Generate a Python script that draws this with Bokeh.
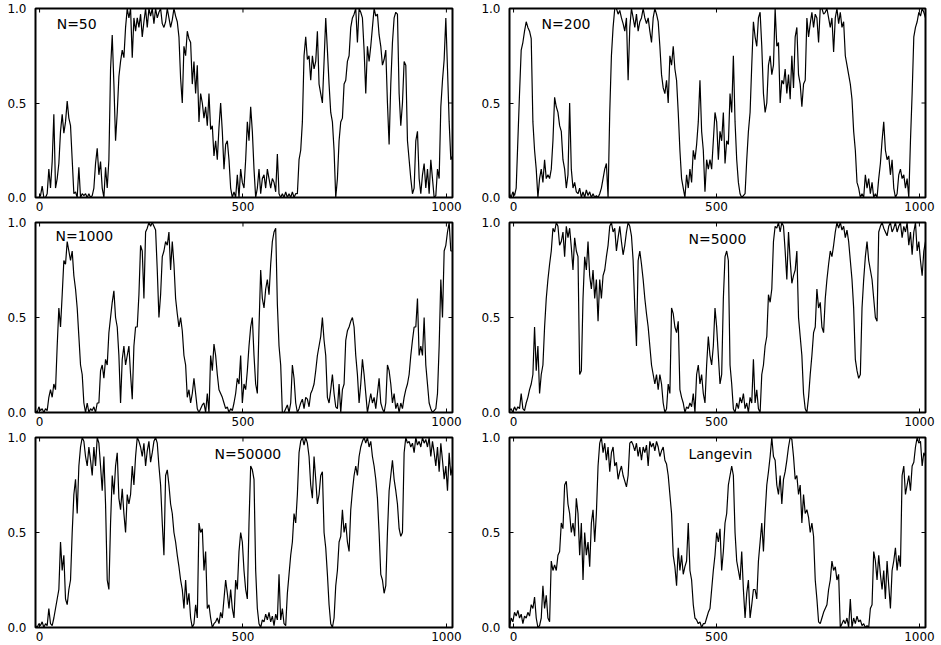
import numpy as np
from bokeh.plotting import figure
from bokeh.models import Range1d, FixedTicker, Label, PrintfTickFormatter
from bokeh.layouts import column, row
from bokeh.embed import file_html
from bokeh.resources import INLINE

# Sampled trajectories (fraction in 0..1), evenly spaced over the whole time window
n50 = [
    0, 0, 0, 0.01, 0.06, 0, 0, 0.02, 0.15, 0.05, 0.19, 0.44, 0.05, 0.1, 0.18, 0.35, 0.44, 0.34, 0.4, 0.51,
    0.42, 0.38, 0.2, 0.02, 0.03, 0, 0.16, 0, 0.02, 0.01, 0.02, 0, 0.02, 0, 0.01, 0.05, 0.18, 0.26, 0.12, 0.19,
    0.05, 0, 0.16, 0.05, 0.2, 0.68, 0.86, 0.6, 0.3, 0.45, 0.64, 0.72, 0.78, 0.74, 0.9, 1, 0.95, 1, 0.74, 0.95,
    0.88, 0.95, 0.9, 0.97, 0.85, 0.93, 1, 0.9, 1, 0.96, 1, 0.92, 1, 0.95, 0.98, 1, 0.92, 0.9, 0.93, 1,
    0.95, 0.9, 0.94, 1, 0.96, 0.93, 0.85, 0.63, 0.5, 0.8, 0.75, 0.88, 0.84, 0.82, 0.6, 0.72, 0.55, 0.7, 0.4, 0.55,
    0.5, 0.42, 0.48, 0.38, 0.55, 0.36, 0.38, 0.22, 0.3, 0.2, 0.37, 0.5, 0.35, 0.15, 0.28, 0.3, 0.2, 0.05, 0, 0.03,
    0,
    0.12, 0, 0.15, 0.08, 0.05, 0.2, 0.4, 0.3, 0.48, 0.35, 0.15, 0, 0.05, 0.15, 0.02, 0.1, 0.12, 0.05, 0.15, 0.1,
    0.05, 0.1, 0.08, 0.03, 0.23, 0.02, 0, 0.02, 0, 0.03, 0, 0.02, 0, 0.03, 0, 0.02, 0.02, 0.2, 0.25, 0.4,
    0.75, 0.85, 0.73, 0.75, 0.62, 0.75, 0.68, 0.72, 0.88, 0.6, 0.55, 0.5, 0.72, 0.95, 0.78, 0.6, 0.45, 0.4, 0.25, 0,
    0.1, 0.3, 0.4, 0.42, 0.6, 0.62, 0.72, 0.75, 0.9, 0.95, 0.97, 1, 0.82, 1, 0.98, 0.95, 0.78, 0.55, 0.8, 0.72,
    0.8, 0.9, 1, 0.96, 0.97, 0.86, 0.8, 0.7, 0.73, 0.78, 0.5, 0.28, 0.6, 0.82, 0.95, 0.98, 0.97, 0.55, 0.38, 0.5,
    0.72, 0.7, 0.3, 0.2, 0.1, 0.02, 0.05, 0.3, 0.35, 0.1, 0.02, 0.12, 0.18, 0.05, 0.15, 0.02, 0.2, 0.1, 0, 0.01,
    0.15, 0.1, 0.48, 0.62, 0.73, 0.95, 0.68, 0.4, 0.2, 0.22,
]

n200 = [
    0.02, 0, 0.03, 0.01, 0.05, 0.3, 0.55, 0.78, 0.82, 0.88, 0.93, 0.9, 0.88, 0.84, 0.4, 0.25, 0.15, 0, 0.1, 0.15,
    0.08, 0.2, 0.1, 0.12, 0.1, 0.15, 0.3, 0.53, 0.48, 0.45, 0.38, 0.35, 0.2, 0.15, 0.05, 0.12, 0.5, 0.15, 0.05, 0.08,
    0.03, 0.02, 0.05, 0, 0.03, 0, 0.04, 0.01, 0.03, 0, 0.02, 0, 0.01, 0, 0.02, 0.05, 0.1, 0.15, 0.18, 0,
    0.45, 0.75, 0.9, 1, 1, 0.97, 0.99, 0.95, 0.92, 0.88, 0.95, 0.62, 0.9, 1, 0.95, 0.9, 0.97, 0.88, 0.93, 0.95,
    1, 0.95, 0.92, 0.95, 0.88, 0.82, 0.95, 1, 0.97, 0.93, 0.8, 0.65, 0.58, 0.55, 0.62, 0.5, 0.75, 0.7, 0.8, 0.68,
    0.62, 0.45, 0.25, 0.1, 0.05, 0, 0.12, 0.05, 0.15, 0.08, 0.25, 0.2, 0.28, 0.4, 0.62, 0.35, 0.25, 0.03, 0.2, 0.15,
    0.2,
    0.15, 0.3, 0.45, 0.4, 0.2, 0.35, 0.3, 0.45, 0.18, 0.3, 0.28, 0.55, 0.45, 0.75, 0.4, 0.2, 0.08, 0.02, 0, 0.01,
    0.02, 0.2, 0.35, 0.45, 0.7, 0.93, 0.85, 0.8, 0.95, 0.98, 0.8, 0.55, 0.45, 0.5, 0.7, 0.75, 0.65, 0.7, 1, 0.8,
    0.82, 0.5, 0.62, 0.6, 0.68, 0.55, 0.65, 0.52, 0.75, 0.58, 0.85, 0.9, 0.65, 0.6, 0.48, 0.6, 0.62, 0.95, 0.85, 0.92,
    0.98, 0.9, 0.97, 0.95, 0.82, 1, 1, 0.97, 0.98, 1, 0.95, 0.9, 0.95, 0.77, 0.95, 1, 0.92, 0.98, 0.9, 0.93,
    0.75, 0.7, 0.65, 0.6, 0.52, 0.35, 0.25, 0.08, 0.05, 0, 0.02, 0, 0.12, 0.05, 0.1, 0.02, 0.08, 0, 0.02, 0,
    0.1, 0.18, 0.3, 0.4, 0.25, 0.2, 0.22, 0.12, 0.2, 0.05, 0, 0.02, 0.12, 0.15, 0.1, 0.12, 0.05, 0.1, 0, 0.3,
    0.55, 0.85, 0.9, 0.93, 0.98, 0.96, 1, 0.98, 0.95,
]

n1000 = [
    0.01, 0, 0.03, 0.01, 0.02, 0, 0.02, 0.01, 0.08, 0.12, 0.08, 0.15, 0.12, 0.35, 0.55, 0.45, 0.62, 0.8, 0.78, 0.9,
    0.85, 0.8, 0.85, 0.72, 0.65, 0.55, 0.4, 0.25, 0.2, 0.05, 0, 0.05, 0, 0.02, 0.01, 0.03, 0, 0.05, 0.05, 0.22,
    0.25, 0.18, 0.28, 0.25, 0.42, 0.5, 0.58, 0.64, 0.5, 0.45, 0.3, 0.05, 0.28, 0.35, 0.25, 0.3, 0.35, 0.2, 0.07, 0.35,
    0.45, 0.45, 0.62, 0.88, 0.85, 0.6, 0.95, 0.97, 1, 0.98, 1, 0.98, 0.96, 0.75, 0.5, 0.62, 0.82, 0.85, 0.9, 0.88,
    0.95, 0.75, 0.9, 0.78, 0.6, 0.52, 0.45, 0.5, 0.43, 0.3, 0.25, 0.08, 0.12, 0.05, 0.1, 0.18, 0.1, 0.02, 0, 0.02,
    0.04, 0.05, 0, 0.1, 0, 0.3, 0.22, 0.36, 0.3, 0.2, 0.12, 0.1, 0.08, 0.05, 0.02, 0.03, 0, 0.02, 0.01, 0.05,
    0.1,
    0.18, 0.15, 0.3, 0.05, 0.15, 0.12, 0.22, 0.35, 0.45, 0.5, 0.3, 0.15, 0.1, 0.45, 0.75, 0.6, 0.55, 0.65, 0.7, 0.62,
    0.78, 0.9, 0.95, 0.97, 0.57, 0.35, 0.25, 0, 0, 0.02, 0.04, 0, 0.05, 0.25, 0.18, 0.05, 0, 0.02, 0.05, 0.07,
    0.02, 0.08, 0.07, 0.03, 0.1, 0.12, 0.15, 0.22, 0.3, 0.35, 0.4, 0.5, 0.38, 0.3, 0.08, 0.05, 0.12, 0.2, 0.1, 0.03,
    0.02, 0.15, 0, 0.12, 0.15, 0.38, 0.43, 0.45, 0.48, 0.5, 0.45, 0.3, 0.2, 0.05, 0.15, 0.28, 0.2, 0.1, 0, 0.05,
    0.1, 0.05, 0.08, 0.02, 0.1, 0.18, 0.05, 0.02, 0, 0.05, 0.25, 0.22, 0.15, 0.05, 0.1, 0.02, 0.05, 0, 0.05, 0.02,
    0.08, 0.12, 0.15, 0.2, 0.3, 0.38, 0.45, 0.45, 0.6, 0.3, 0.35, 0.3, 0.5, 0.25, 0.15, 0.05, 0.02, 0, 0.01, 0.02,
    0.1, 0.35, 0.7, 0.5, 0.85, 0.88, 0.95, 1, 0.85, 0.85,
]

n5000 = [
    0.01, 0.02, 0, 0.03, 0.01, 0.03, 0.02, 0.1, 0.02, 0.01, 0.05, 0.08, 0.12, 0.15, 0.2, 0.45, 0.22, 0.35, 0.1, 0.2,
    0.25, 0.45, 0.6, 0.7, 0.78, 0.85, 0.97, 0.95, 1, 0.98, 0.88, 0.9, 0.95, 0.82, 0.98, 0.92, 0.97, 0.87, 0.75, 0.92,
    0.85, 0.82, 0.2, 0.22, 0.6, 0.82, 0.75, 0.9, 0.72, 0.65, 0.75, 0.6, 0.7, 0.48, 0.7, 0.6, 0.72, 0.75, 0.82, 0.88,
    0.98, 1, 0.95, 0.97, 0.85, 0.92, 0.98, 0.9, 0.83, 0.88, 0.95, 1, 0.98, 0.93, 0.8, 0.55, 0.35, 0.8, 0.85, 0.78,
    0.7, 0.6, 0.52, 0.45, 0.35, 0.25, 0.2, 0.15, 0.2, 0.12, 0.2, 0.15, 0.05, 0, 0.02, 0.15, 0.1, 0.55, 0.52, 0.45,
    0.42, 0.48, 0.12, 0.08, 0.05, 0, 0.03, 0.02, 0.05, 0.03, 0.1, 0, 0.2, 0.25, 0.15, 0.2, 0.1, 0.05, 0.25, 0.4,
    0.3,
    0.25, 0.35, 0.55, 0.45, 0.3, 0.15, 0.2, 0.6, 0.82, 0.85, 0.8, 0.25, 0.15, 0.02, 0, 0.05, 0.02, 0.08, 0.05, 0.1,
    0.02, 0.05, 0, 0.08, 0.05, 0.28, 0.05, 0.12, 0.02, 0, 0.2, 0.25, 0.35, 0.4, 0.62, 0.58, 0.65, 0.9, 0.98, 0.97,
    1, 0.95, 1, 0.98, 0.85, 0.7, 0.95, 0.8, 0.68, 0.72, 0.75, 0.85, 0.5, 0.4, 0.3, 0.1, 0.02, 0, 0.08, 0.2,
    0.3, 0.42, 0.45, 0.65, 0.55, 0.58, 0.45, 0.42, 0.6, 0.7, 0.78, 0.85, 0.82, 0.88, 0.95, 1, 0.97, 1, 0.96, 0.98,
    0.92, 0.96, 0.9, 0.8, 0.7, 0.55, 0.28, 0.22, 0.18, 0.2, 0.55, 0.7, 0.82, 0.9, 0.8, 0.75, 0.7, 0.6, 0.5, 0.48,
    0.95, 0.98, 1, 0.97, 0.95, 0.93, 0.98, 1, 0.95, 0.97, 1, 0.95, 0.98, 1, 0.92, 0.98, 0.95, 1, 0.88, 0.95,
    0.83, 0.95, 1, 0.85, 0.9, 0.8, 0.72, 0.85, 0.9,
]

n50000 = [
    0.01, 0, 0.02, 0.01, 0.03, 0, 0.02, 0.01, 0.1, 0.02, 0.01, 0.05, 0.1, 0.15, 0.2, 0.45, 0.3, 0.38, 0.15, 0.12,
    0.2, 0.25, 0.5, 0.7, 0.78, 0.6, 0.85, 0.95, 1, 0.98, 0.9, 0.85, 0.95, 0.88, 0.8, 0.95, 0.85, 1, 0.97, 0.85,
    0.72, 0.9, 0.65, 0.25, 0.2, 0.55, 0.8, 0.7, 0.85, 0.92, 0.68, 0.62, 0.73, 0.6, 0.5, 0.7, 0.65, 0.7, 0.85, 0.75,
    0.9, 1, 0.98, 0.95, 0.9, 0.97, 0.85, 0.93, 0.98, 0.87, 0.92, 0.98, 1, 0.97, 0.85, 0.75, 0.55, 0.38, 0.8, 0.83,
    0.75, 0.65, 0.6, 0.5, 0.45, 0.38, 0.32, 0.25, 0.2, 0.1, 0.25, 0.12, 0.18, 0.05, 0, 0.02, 0.12, 0.05, 0.55, 0.5,
    0.52, 0.3, 0.4, 0.1, 0.12, 0.05, 0, 0.02, 0.03, 0.05, 0.02, 0.08, 0.05, 0.15, 0.25, 0.18, 0.1, 0.2, 0.1, 0.05,
    0.25,
    0.2, 0.4, 0.5, 0.45, 0.3, 0.2, 0.15, 0.55, 0.85, 0.83, 0.78, 0.3, 0.1, 0.02, 0, 0.04, 0.03, 0.07, 0.04, 0.08,
    0.03, 0.06, 0.01, 0.07, 0.04, 0.28, 0.04, 0.1, 0.02, 0.01, 0.18, 0.28, 0.38, 0.45, 0.6, 0.55, 0.7, 0.92, 0.98, 1,
    0.96, 1, 0.97, 0.9, 0.75, 0.68, 0.9, 0.78, 0.65, 0.7, 0.8, 0.82, 0.5, 0.42, 0.28, 0.12, 0.02, 0, 0.05, 0.22,
    0.3, 0.45, 0.48, 0.62, 0.5, 0.55, 0.45, 0.4, 0.62, 0.72, 0.8, 0.85, 0.8, 0.9, 0.95, 0.98, 1, 0.97, 1, 0.95,
    0.98, 0.9, 0.85, 0.78, 0.68, 0.5, 0.28, 0.25, 0.18, 0.22, 0.5, 0.72, 0.8, 0.88, 0.78, 0.72, 0.65, 0.52, 0.48, 0.5,
    0.92, 1, 0.97, 0.98, 0.95, 0.97, 0.92, 1, 0.96, 0.98, 0.95, 1, 0.97, 0.99, 0.95, 1, 0.9, 0.98, 0.92, 0.85,
    0.95, 0.82, 0.97, 0.88, 0.78, 0.85, 0.72, 0.92, 0.8, 0.85,
]

langevin = [
    0, 0.05, 0.03, 0.08, 0.06, 0.09, 0.05, 0.07, 0.02, 0.06, 0.05, 0.08, 0.06, 0.12, 0.1, 0.16, 0.05, 0, 0.01, 0.05,
    0.22, 0.1, 0.17, 0.05, 0.03, 0.35, 0.3, 0.33, 0.3, 0.38, 0.4, 0.55, 0.52, 0.75, 0.77, 0.65, 0.6, 0.5, 0.55, 0.48,
    0.68, 0.6, 0.38, 0.55, 0.25, 0.5, 0.38, 0.45, 0.32, 0.55, 0.62, 0.45, 0.6, 0.85, 0.97, 1, 0.92, 0.97, 0.88, 0.95,
    0.82, 0.92, 0.95, 0.85, 0.87, 0.78, 0.82, 0.85, 0.8, 0.77, 0.74, 0.8, 0.97, 0.98, 0.96, 0.93, 0.97, 0.9, 0.95, 0.88,
    0.95, 0.92, 0.96, 0.85, 0.98, 0.95, 0.97, 0.93, 0.98, 0.95, 0.9, 0.93, 0.95, 0.88, 0.86, 0.8, 0.7, 0.6, 0.38, 0.32,
    0.22, 0.42, 0.3, 0.38, 0.28, 0.32, 0.35, 0.55, 0.3, 0.25, 0.12, 0.05, 0.04, 0.02, 0.03, 0, 0.02, 0.02, 0.05, 0.08,
    0.1,
    0.2, 0.3, 0.38, 0.5, 0.45, 0.52, 0.3, 0.4, 0.55, 0.6, 0.75, 0.8, 0.85, 0.8, 0.5, 0.35, 0.3, 0.25, 0.4, 0.2,
    0.05, 0.18, 0.25, 0.05, 0.12, 0.2, 0.2, 0.15, 0.35, 0.45, 0.55, 0.4, 0.6, 0.75, 0.82, 0.9, 1, 0.9, 0.88, 0.75,
    0.7, 0.8, 0.65, 0.78, 0.82, 0.88, 0.95, 1, 0.99, 0.9, 0.78, 0.8, 0.7, 0.75, 0.55, 0.7, 0.6, 0.62, 0.58, 0.5,
    0.55, 0.48, 0.25, 0.15, 0.03, 0.02, 0.05, 0.08, 0.1, 0.12, 0.2, 0.25, 0.35, 0.3, 0.32, 0.25, 0.28, 0, 0.02, 0.04,
    0.02, 0.05, 0, 0.15, 0, 0.05, 0.02, 0.06, 0.03, 0.04, 0.01, 0.02, 0, 0.01, 0, 0.1, 0.12, 0.4, 0.35, 0.25,
    0.38, 0.28, 0.2, 0.3, 0.15, 0.35, 0.22, 0.1, 0.3, 0.35, 0.42, 0.3, 0.38, 0.32, 0.8, 0.85, 0.7, 0.75, 0.8, 0.72,
    0.85, 0.87, 0.95, 1, 0.97, 0.98, 0.85, 0.92, 0.9,
]

series = [n50, n200, n1000, n5000, n50000, langevin]
panel_labels = ["N=50", "N=200", "N=1000", "N=5000", "N=50000", "Langevin"]
x_ticks = [0, 500, 1000]
y_ticks = [0.0, 0.5, 1.0]

# annotation anchor (left edge, vertical middle) in data units for each panel
label_anchor = [(42, 0.92), (69, 0.92), (39, 0.93), (431, 0.915), (430, 0.915), (431, 0.915)]

FONT = "DejaVu Sans"
T_START, T_END = -10, 1015
TICK_LEN = 4


def style_axis(ax, standoff):
    ax.axis_line_color = None
    ax.major_tick_in = TICK_LEN
    ax.major_tick_out = 0
    ax.minor_tick_in = 0
    ax.minor_tick_out = 0
    ax.minor_tick_line_color = None
    ax.major_tick_line_color = "black"
    ax.major_label_text_font = FONT
    ax.major_label_text_font_size = "12px"
    ax.major_label_text_line_height = 1.0
    ax.major_label_text_color = "black"
    ax.major_label_standoff = standoff


def make_panel(values, label, anchor, col, row_idx):
    width = 470 if col == 0 else 471
    p = figure(
        width=width, height=215,
        x_range=Range1d(T_START, T_END), y_range=Range1d(0, 1),
        output_backend="svg", toolbar_location=None,
        min_border_left=35 if col == 0 else 39,
        min_border_right=18 if col == 0 else 16,
        min_border_top=8 if row_idx == 0 else 7,
        min_border_bottom=18,
    )
    p.grid.visible = False
    p.background_fill_color = "white"
    p.border_fill_color = "white"
    p.outline_line_color = "black"
    p.outline_line_width = 2
    p.outline_line_alpha = 1.0

    xax = p.xaxis[0]
    xax.ticker = FixedTicker(ticks=x_ticks)
    style_axis(xax, 4)

    yax = p.yaxis[0]
    yax.ticker = FixedTicker(ticks=y_ticks)
    yax.formatter = PrintfTickFormatter(format="%.1f")
    style_axis(yax, 9)

    # inward tick marks on the top and right edges of the frame
    p.ray(x=x_ticks, y=[1] * len(x_ticks), length=TICK_LEN, length_units="screen",
          angle=-np.pi / 2, line_color="black", line_width=1)
    p.ray(x=[T_END] * len(y_ticks), y=y_ticks, length=TICK_LEN, length_units="screen",
          angle=np.pi, line_color="black", line_width=1)

    t = np.linspace(T_START, T_END, len(values))
    p.line(t, values, line_color="black", line_width=1.2)

    p.add_layout(Label(x=anchor[0], y=anchor[1], text=label, text_font=FONT,
                       text_font_size="14px", text_color="black",
                       text_align="left", text_baseline="middle"))
    return p


panels = [make_panel(series[i], panel_labels[i], label_anchor[i], i % 2, i // 2) for i in range(6)]
layout = column(row(panels[0], panels[1]), row(panels[2], panels[3]), row(panels[4], panels[5]))

open("out.html", "w").write(file_html(layout, INLINE))
